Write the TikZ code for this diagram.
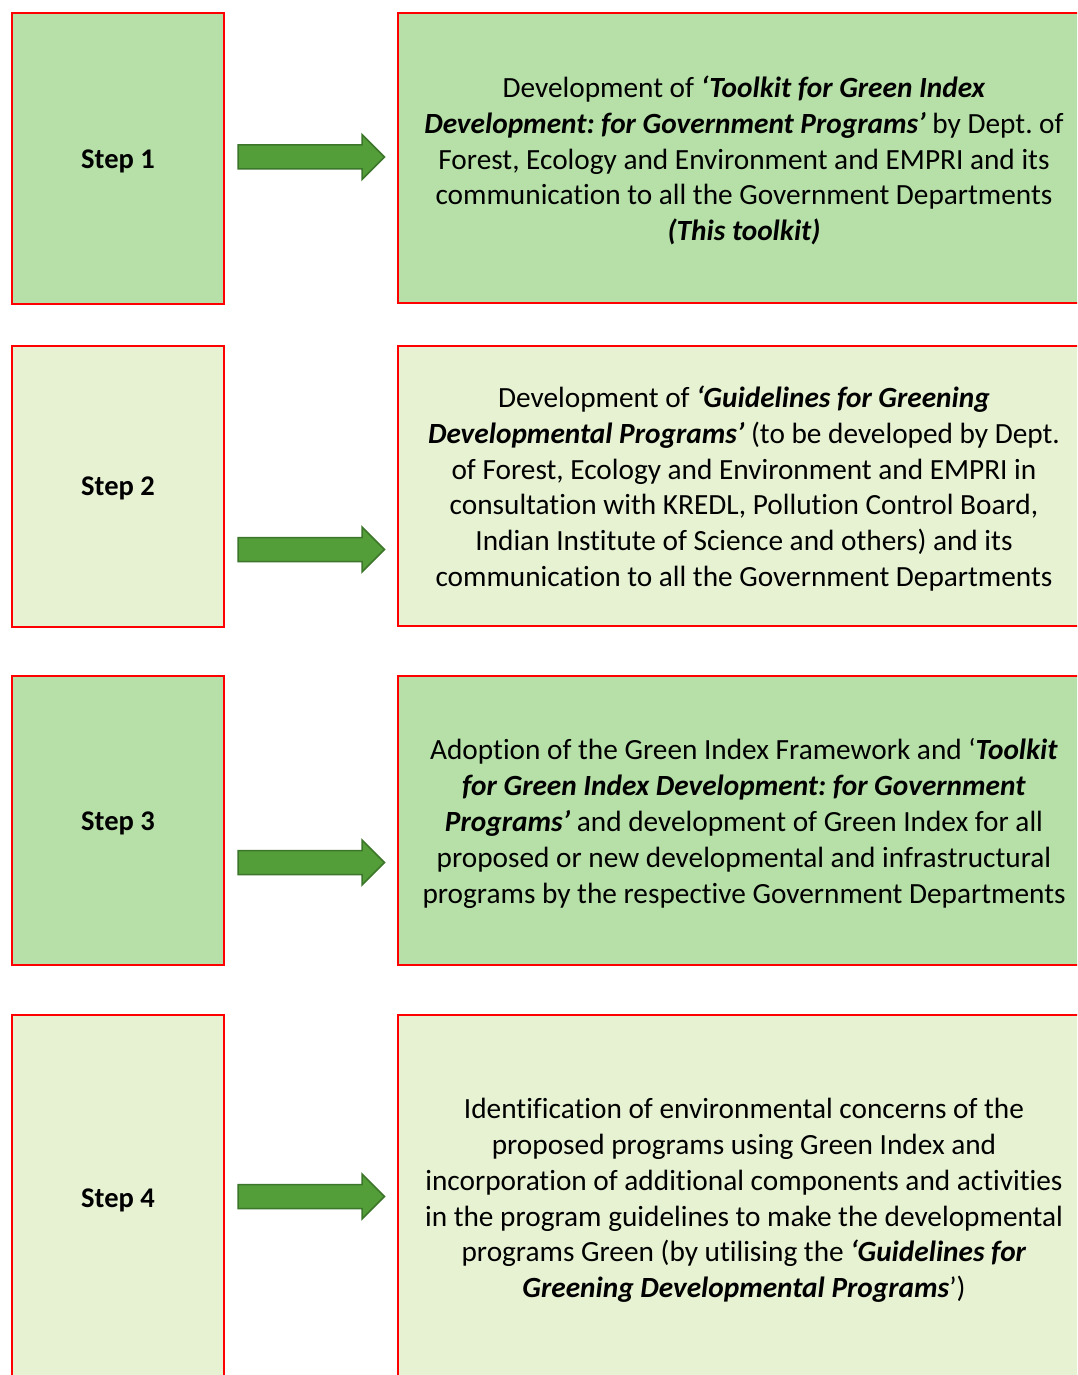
\documentclass[tikz,border=0pt]{standalone}
\usepackage{fontspec}
\setmainfont{Carlito}[Ligatures=NoCommon]
\definecolor{darkfill}{RGB}{183,224,168}
\definecolor{lightfill}{RGB}{231,242,211}
\definecolor{arrowfill}{RGB}{84,158,57}
\definecolor{arrowline}{RGB}{60,118,42}
\definecolor{boxred}{RGB}{255,0,0}
\newcommand{\bi}[1]{\textbf{\textit{#1}}}
\frenchspacing
\begin{document}
\begin{tikzpicture}[x=1pt,y=-1pt,
  stepbox/.style={draw=boxred, line width=2pt, rectangle, inner sep=0pt},
  steplabel/.style={inner sep=0pt, font=\fontsize{28.5}{34}\selectfont\bfseries},
  descbox/.style={draw=boxred, line width=2pt, rectangle, inner sep=0pt},
  desctext/.style={align=center, inner sep=0pt, font=\fontsize{29.3}{35.8}\selectfont},
  blockarrow/.style={fill=arrowfill, draw=arrowline, line width=1.5pt, line join=miter}]
\useasboundingbox (0,0) rectangle (1077,1375);
\fill[white] (0,0) rectangle (1077,1375);
\clip (0,0) rectangle (1077,1375);

% left step boxes
\node[stepbox, fill=darkfill, minimum width=212pt, minimum height=291pt] (s1) at (118,158.5) {};
\node[stepbox, fill=lightfill, minimum width=212pt, minimum height=281pt] (s2) at (118,486.5) {};
\node[stepbox, fill=darkfill, minimum width=212pt, minimum height=289pt] (s3) at (118,820.5) {};
\node[stepbox, fill=lightfill, minimum width=212pt, minimum height=380pt] (s4) at (118,1205) {};
\node[steplabel] (l1) at (118,161) {Step 1};
\node[steplabel] (l2) at (118,488.5) {Step 2};
\node[steplabel] (l3) at (118,823) {Step 3};
\node[steplabel] (l4) at (118,1200.5) {Step 4};

% right description boxes
\node[descbox, fill=darkfill, minimum width=712pt, minimum height=290pt] (d1) at (754,158) {};
\node[descbox, fill=lightfill, minimum width=712pt, minimum height=280pt] (d2) at (754,486) {};
\node[descbox, fill=darkfill, minimum width=712pt, minimum height=289pt] (d3) at (754,820.5) {};
\node[descbox, fill=lightfill, minimum width=712pt, minimum height=380pt] (d4) at (754,1205) {};

% texts
\node[desctext] (t1) at (744,160.5) {Development of \bi{‘Toolkit for Green Index}\\
\bi{Development: for Government Programs’} by Dept. of\\
Forest, Ecology and Environment and EMPRI and its\\
communication to all the Government Departments\\
\bi{(This toolkit)}};

\node[desctext] (t2) at (744,488.5) {Development of \bi{‘Guidelines for Greening}\\
\bi{Developmental Programs’} (to be developed by Dept.\\
of Forest, Ecology and Environment and EMPRI in\\
consultation with KREDL, Pollution Control Board,\\
Indian Institute of Science and others) and its\\
communication to all the Government Departments};

\node[desctext] (t3) at (744,823.5) {Adoption of the Green Index Framework and ‘\bi{Toolkit}\\
\bi{for Green Index Development: for Government}\\
\bi{Programs’} and development of Green Index for all\\
proposed or new developmental and infrastructural\\
programs by the respective Government Departments};

\node[desctext] (t4) at (744,1200.5) {Identification of environmental concerns of the\\
proposed programs using Green Index and\\
incorporation of additional components and activities\\
in the program guidelines to make the developmental\\
programs Green (by utilising the \bi{‘Guidelines for}\\
\bi{Greening Developmental Programs}’)};

% block arrows
\foreach \yc in {157,549.5,862.5,1196.5}{
  \draw[blockarrow] (238,{\yc-12}) -- (362,{\yc-12}) -- (362,{\yc-22.5}) -- (384.5,\yc)
    -- (362,{\yc+22.5}) -- (362,{\yc+12}) -- (238,{\yc+12}) -- cycle;
}
\end{tikzpicture}
\end{document}
